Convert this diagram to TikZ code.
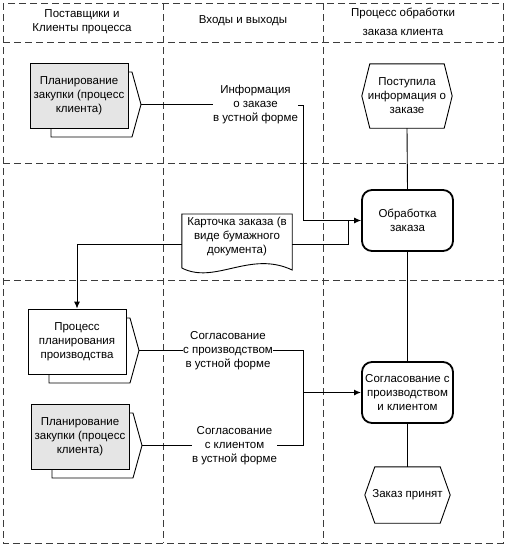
\documentclass[tikz,border=0pt]{standalone}
\usepackage{fontspec}
\setmainfont{Liberation Sans}
\usetikzlibrary{arrows.meta}
\definecolor{boxgrey}{RGB}{229,229,229}
\definecolor{gridcol}{RGB}{60,60,60}
\begin{document}
\begin{tikzpicture}[x=1pt,y=-1pt,
  txt/.style={font=\fontsize{11.5}{14}\selectfont, align=center, inner sep=0pt},
  gridline/.style={draw=gridcol, line width=0.8pt, dash pattern=on 7pt off 4pt},
  conn/.style={draw=black, line width=0.9pt},
  arr/.style={conn, -{Latex[length=7pt,width=6pt]}},
  frontbox/.style={txt, draw=black, line width=0.9pt, minimum width=98pt, minimum height=65pt},
  backshape/.style={draw=black, line width=0.9pt, fill=white},
  roundbox/.style={txt, draw=black, line width=1.8pt, rounded corners=10pt, minimum width=91pt, minimum height=61pt},
  hexframe/.style={draw=black, line width=0.9pt},
  placeholder/.style={draw=none, inner sep=0pt}
]
\useasboundingbox (0,0) rectangle (506,546);

% --- grid ---
\draw[gridline] (3,3) rectangle (503,543);
\draw[gridline] (163,3) -- (163,543);
\draw[gridline] (323,3) -- (323,543);
\draw[gridline] (3,42) -- (503,42);
\draw[gridline] (3,163) -- (503,163);
\draw[gridline] (3,280) -- (503,280);

% --- headers ---
\node[txt] (h1) at (82,21.5) {Поставщики и\\Клиенты процесса};
\node[txt] (h2) at (243,21) {Входы и выходы};
\node[txt] (h3) at (403,21.5) {Процесс обработки\\[5pt]заказа клиента};

% --- process shapes with back pentagon ---
% 1: Планирование закупки (top)
\draw[backshape] (51,72) -- (132,72) -- (141,104.5) -- (132,137) -- (51,137) -- cycle;
\coordinate (tip1) at (141,104.5);
\node[frontbox, fill=boxgrey] (pz1) at (79,95.5) {Планирование\\закупки (процесс\\клиента)};

% 2: Процесс планирования производства
\draw[backshape] (49,318) -- (130,318) -- (139,350.5) -- (130,383) -- (49,383) -- cycle;
\coordinate (tip2) at (139,350.5);
\node[frontbox, fill=white] (ppr) at (77,341.5) {Процесс\\планирования\\производства};

% 3: Планирование закупки (bottom)
\draw[backshape] (52,413) -- (133,413) -- (142,445.5) -- (133,478) -- (52,478) -- cycle;
\coordinate (tip3) at (142,445.5);
\node[frontbox, fill=boxgrey] (pz2) at (80,436.5) {Планирование\\закупки (процесс\\клиента)};

% --- right column ---
\node[placeholder, minimum width=90pt, minimum height=64pt] (post) at (407,96) {};
\draw[hexframe] (post.west) -- ([xshift=8pt]post.north west) -- ([xshift=-8pt]post.north east) -- (post.east) -- ([xshift=-8pt]post.south east) -- ([xshift=8pt]post.south west) -- cycle;
\node[txt] (postt) at (post.center) {Поступила\\информация о\\заказе};

\node[roundbox] (obr) at (407.5,220.5) {Обработка\\заказа};
\node[roundbox] (sogl) at (407.5,392.5) {Согласование с\\производством\\и клиентом};

\node[placeholder, minimum width=85pt, minimum height=56pt] (zp) at (407.5,495) {};
\draw[hexframe] (zp.west) -- ([xshift=10pt]zp.north west) -- ([xshift=-10pt]zp.north east) -- (zp.east) -- ([xshift=-10pt]zp.south east) -- ([xshift=10pt]zp.south west) -- cycle;
\node[txt] (zpt) at (zp.center) {Заказ принят};

% --- document shape ---
\node[placeholder, minimum width=110pt, minimum height=60pt] (kart) at (237,244) {};
\draw[conn] (kart.west |- 0,268) -- (kart.west |- 0,214) -- (kart.east |- 0,214) -- (kart.east |- 0,270)
  .. controls (250,250) and (215,285) .. (kart.west |- 0,268);
\node[txt] (kartt) at (237,237) {Карточка заказа (в\\виде бумажного\\документа)};

% --- labels ---
\node[txt] (lab1) at (255.5,105) {Информация\\о заказе\\в устной форме};
\node[txt] (lab2) at (228,351) {Согласование\\с производством\\в устной форме};
\node[txt] (lab3) at (234.5,446) {Согласование\\с клиентом\\в устной форме};

% --- connectors ---
\coordinate (j1) at (303,105);
\coordinate (j2) at (348,220.5);
\coordinate (j3) at (303,392.5);

\draw[conn] (tip1) -- (tip1 -| lab1.west);
\draw[arr] (lab1.east |- j1) -- (j1) |- (obr.west);
\draw[conn] (kart.east) -| (j2);
\draw[arr] (kart.west) -| (ppr.north);

\draw[conn] (post.south) -- (obr.north);
\draw[conn] (obr.south) -- (sogl.north);
\draw[conn] (sogl.south) -- (zp.north);

\draw[conn] (tip2) -- (tip2 -| lab2.west);
\draw[conn] (lab2.east |- tip2) -| (j3);
\draw[conn] (tip3) -- (tip3 -| lab3.west);
\draw[conn] (lab3.east |- tip3) -| (j3);
\draw[arr, line width=1.6pt] (j3) -- (sogl.west);
\end{tikzpicture}
\end{document}
